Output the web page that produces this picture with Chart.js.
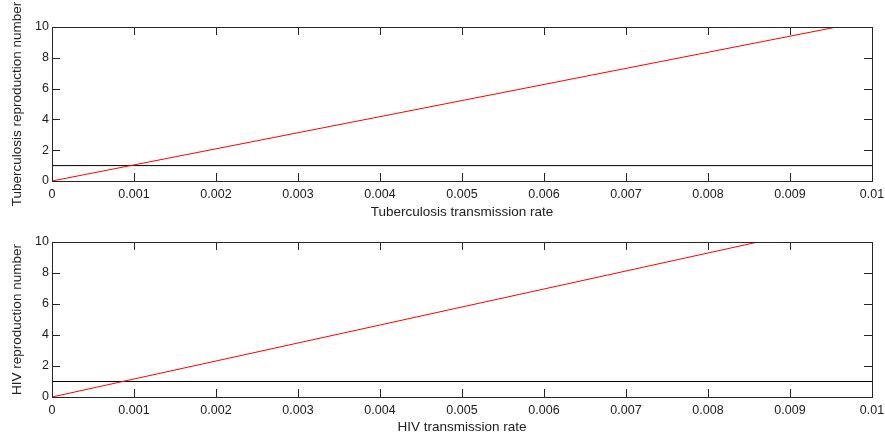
<!DOCTYPE html>
<html>
<head>
<meta charset="utf-8">
<script src="https://cdn.jsdelivr.net/npm/chart.js@4/dist/chart.umd.min.js"></script>
<style>
  html, body { margin: 0; padding: 0; background: #fff; }
  #wrap { position: relative; width: 885px; height: 437px; }
  canvas { position: absolute; left: 0; }
  #tb { top: 0; }
  #hiv { top: 218px; }
</style>
</head>
<body>
<div id="wrap">
  <canvas id="tb" width="885" height="218"></canvas>
  <canvas id="hiv" width="885" height="219"></canvas>
</div>
<script>
// reproduction number vs transmission rate (linear in the rate)
const tbRate = [0, 0.00957];
const tbR0 = [0, 10];
const hivRate = [0, 0.00861];
const hivR0 = [0, 10];
// threshold R = 1
const thresholdRate = [0, 0.01];
const thresholdR = [1, 1];

const xTicks = [0, 0.001, 0.002, 0.003, 0.004, 0.005, 0.006, 0.007, 0.008, 0.009, 0.01];
const yTicks = [0, 2, 4, 6, 8, 10];

const axisColor = '#262626';
const textColor = '#202020';
const fontFamily = '"Liberation Sans", Arial, sans-serif';

// matlab-like box with ticks pointing inwards on all four sides
const boxTicks = {
  id: 'boxTicks',
  afterDraw(chart) {
    const { ctx, chartArea: a, scales: { x, y } } = chart;
    const len = 8;
    ctx.save();
    ctx.strokeStyle = axisColor;
    ctx.lineWidth = 1;
    ctx.beginPath();
    x.ticks.forEach(t => {
      const px = Math.round(x.getPixelForValue(t.value)) + 0.5;
      ctx.moveTo(px, a.bottom); ctx.lineTo(px, a.bottom - len);
      ctx.moveTo(px, a.top); ctx.lineTo(px, a.top + len);
    });
    y.ticks.forEach(t => {
      const py = Math.round(y.getPixelForValue(t.value)) + 0.5;
      ctx.moveTo(a.left, py); ctx.lineTo(a.left + len, py);
      ctx.moveTo(a.right, py); ctx.lineTo(a.right - len, py);
    });
    ctx.stroke();
    ctx.strokeRect(a.left + 0.5, a.top + 0.5, a.right - a.left, a.bottom - a.top);
    ctx.restore();
  }
};

function toPoints(xs, ys) {
  return xs.map((v, i) => ({ x: v, y: ys[i] }));
}

function makePanel(id, rates, values, yTitle, xTitle, geo) {
  return new Chart(document.getElementById(id), {
    type: 'line',
    data: {
      datasets: [
        {
          data: toPoints(rates, values),
          borderColor: '#ff0000',
          borderWidth: 1,
          pointRadius: 0,
          tension: 0,
        },
        {
          data: toPoints(thresholdRate, thresholdR),
          borderColor: '#000000',
          borderWidth: 1,
          pointRadius: 0,
          tension: 0,
        },
      ],
    },
    options: {
      responsive: false,
      animation: false,
      devicePixelRatio: 1,
      layout: { padding: { top: geo.top, right: 13, left: 0, bottom: 0 } },
      plugins: { legend: { display: false }, tooltip: { enabled: false } },
      scales: {
        x: {
          type: 'linear',
          min: xTicks[0],
          max: xTicks[xTicks.length - 1],
          afterBuildTicks: s => { s.ticks = xTicks.map(v => ({ value: v })); },
          afterFit: s => { s.height = geo.xHeight; s.paddingLeft = 0; s.paddingRight = 0; },
          grid: { display: false, drawTicks: false },
          border: { display: false },
          ticks: {
            autoSkip: false,
            maxRotation: 0,
            padding: 6,
            color: textColor,
            font: { family: fontFamily, size: 12.5 },
            callback: v => String(parseFloat(v.toFixed(3))),
          },
          title: {
            display: true,
            text: xTitle,
            color: textColor,
            font: { family: fontFamily, size: 13.5, lineHeight: 0.9 },
            padding: { top: 0, bottom: geo.xTitlePad },
          },
        },
        y: {
          min: yTicks[0],
          max: yTicks[yTicks.length - 1],
          afterBuildTicks: s => { s.ticks = yTicks.map(v => ({ value: v })); },
          afterFit: s => { s.width = 52; s.paddingTop = 0; s.paddingBottom = 0; },
          grid: { display: false, drawTicks: false },
          border: { display: false },
          ticks: {
            padding: 3,
            color: textColor,
            font: { family: fontFamily, size: 12.5 },
          },
          title: {
            display: true,
            text: yTitle,
            color: textColor,
            font: { family: fontFamily, size: 13.5, lineHeight: 0.9 },
            padding: { top: 11.5, bottom: 0 },
          },
        },
      },
    },
    plugins: [boxTicks],
  });
}

makePanel('tb', tbRate, tbR0, 'Tuberculosis reproduction number', 'Tuberculosis transmission rate',
  { top: 27, xHeight: 37, xTitlePad: 0 });
makePanel('hiv', hivRate, hivR0, 'HIV reproduction number', 'HIV transmission rate',
  { top: 24, xHeight: 40, xTitlePad: 4 });
</script>
</body>
</html>
